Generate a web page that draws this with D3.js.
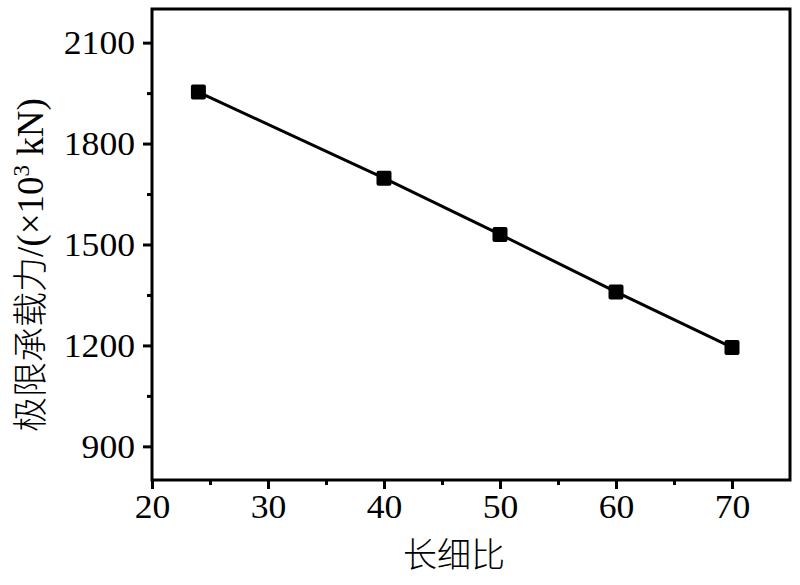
<!DOCTYPE html>
<html><head><meta charset="utf-8">
<script src="https://cdn.jsdelivr.net/npm/d3@7/dist/d3.min.js"></script>
<style>
html,body{margin:0;padding:0;background:#fff;}
svg{display:block;}
</style></head>
<body>
<svg id="chart" width="800" height="585"></svg>
<script>
const slenderness = [24, 40, 50, 60, 70];
const capacity = [1953, 1697, 1530, 1359, 1194];
const xTicks = [20, 30, 40, 50, 60, 70];
const xMinor = [25, 35, 45, 55, 65];
const yTicks = [900, 1200, 1500, 1800, 2100];
const yMinor = [1050, 1350, 1650, 1950];
const xTitle = "长细比";
const yTitleCJK = "极限承载力";

const W = 800, H = 585;
const m = {left: 152, top: 9, right: 10, bottom: 105};
const iw = W - m.left - m.right, ih = H - m.top - m.bottom;
const svg = d3.select("#chart");
const g = svg.append("g").attr("transform", `translate(${m.left},${m.top})`);

const x = d3.scaleLinear().domain([20, 75]).range([0, iw]);
const y = d3.scaleLinear().domain([800, 2200]).range([ih, 0]);
const SX = 1.08;
const FS = 33;
const serif = "'Liberation Serif','Times New Roman',serif";

// x axis major
const gx = g.append("g").attr("transform", `translate(0,${ih})`)
  .call(d3.axisBottom(x).tickValues(xTicks).tickSize(9).tickFormat(d3.format("d")));
gx.select(".domain").remove();
gx.selectAll("line").attr("stroke", "#000").attr("stroke-width", 3);
gx.selectAll("text").attr("y", 38).attr("dy", 0)
  .attr("font-family", serif).attr("font-size", FS).attr("fill", "#000")
  .attr("transform", `scale(${SX},1)`);
const gxm = g.append("g").attr("transform", `translate(0,${ih})`)
  .call(d3.axisBottom(x).tickValues(xMinor).tickSize(5).tickFormat(""));
gxm.select(".domain").remove();
gxm.selectAll("line").attr("stroke", "#000").attr("stroke-width", 3);

// y axis major
const gy = g.append("g")
  .call(d3.axisLeft(y).tickValues(yTicks).tickSize(9).tickFormat(d3.format("d")));
gy.select(".domain").remove();
gy.selectAll("line").attr("stroke", "#000").attr("stroke-width", 3);
gy.selectAll("text").attr("x", -17 / SX).attr("dy", "0.34em")
  .attr("font-family", serif).attr("font-size", FS).attr("fill", "#000")
  .attr("transform", `scale(${SX},1)`);
const gym = g.append("g")
  .call(d3.axisLeft(y).tickValues(yMinor).tickSize(5).tickFormat(""));
gym.select(".domain").remove();
gym.selectAll("line").attr("stroke", "#000").attr("stroke-width", 3);

// frame
g.append("rect").attr("x", 0).attr("y", 0).attr("width", iw).attr("height", ih)
  .attr("fill", "none").attr("stroke", "#000").attr("stroke-width", 3);

// line
const pts = slenderness.map((d, i) => [d, capacity[i]]);
g.append("path").datum(pts)
  .attr("d", d3.line().x(d => x(d[0])).y(d => y(d[1])))
  .attr("fill", "none").attr("stroke", "#000").attr("stroke-width", 3);

// markers
const ms = 15;
g.selectAll("rect.mk").data(pts).enter().append("rect").attr("class", "mk")
  .attr("x", d => x(d[0]) - ms / 2).attr("y", d => y(d[1]) - ms / 2)
  .attr("width", ms).attr("height", ms).attr("rx", 2).attr("fill", "#000");

// x title
svg.append("text").attr("x", 454).attr("y", 567).attr("text-anchor", "middle")
  .attr("font-family", "'Noto Sans CJK SC',sans-serif").attr("font-size", 34)
  .attr("font-weight", 300).attr("fill", "#000").text(xTitle);

// y title
const yt = svg.append("text").attr("transform", "translate(43,265) rotate(-90)")
  .attr("text-anchor", "middle").attr("fill", "#000");
yt.append("tspan").attr("font-family", "'Noto Sans CJK SC',sans-serif")
  .attr("font-size", 35).attr("font-weight", 300).text(yTitleCJK);
yt.append("tspan").attr("font-family", serif).attr("font-size", 37).text("/(×10");
yt.append("tspan").attr("font-family", serif).attr("font-size", 23).attr("dy", -14).text("3");
yt.append("tspan").attr("font-family", serif).attr("font-size", 37).attr("dy", 14).text(" kN)");
</script>
</body></html>
